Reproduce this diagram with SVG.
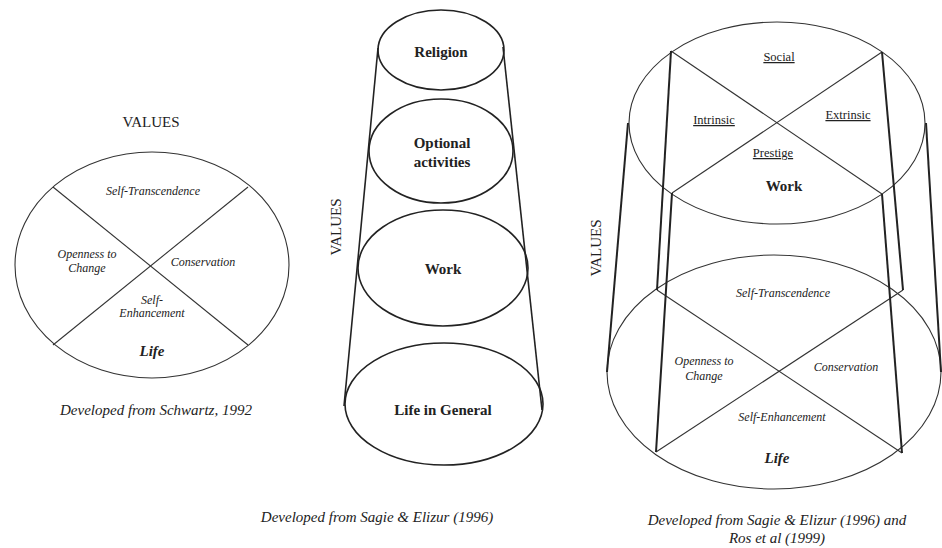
<svg xmlns="http://www.w3.org/2000/svg" width="942" height="548" viewBox="0 0 942 548">
<style>
text{font-family:"Liberation Serif","Times New Roman",serif;fill:#222;text-anchor:middle}
.it{font-style:italic;font-size:12px}
.cap{font-style:italic;font-size:15px}
.b{font-weight:bold;font-size:15px}
.bi{font-weight:bold;font-style:italic;font-size:15px}
.u{font-size:12.5px;text-decoration:underline}
.v{font-size:15px}
.thin{fill:none;stroke:#333;stroke-width:1.1}
.mid{fill:none;stroke:#222;stroke-width:1.6}
.thick{fill:none;stroke:#222;stroke-width:2}
</style>
<rect width="942" height="548" fill="#fff"/>

<g id="schwartz">
  <text class="v" x="151" y="127">VALUES</text>
  <ellipse class="thin" cx="152" cy="265" rx="137" ry="113"/>
  <g id="schwartz-lines">
    <line class="thin" x1="53" y1="187" x2="248" y2="345"/>
    <line class="thin" x1="248" y1="187" x2="53" y2="345"/>
  </g>
  <text class="it" x="153" y="195">Self-Transcendence</text>
  <text class="it" x="87" y="258">Openness to</text>
  <text class="it" x="87" y="272">Change</text>
  <text class="it" x="203" y="266">Conservation</text>
  <text class="it" x="152" y="304">Self-</text>
  <text class="it" x="152" y="317">Enhancement</text>
  <text class="bi" x="152" y="356">Life</text>
  <text class="cap" x="156" y="415">Developed from Schwartz, 1992</text>
</g>

<g id="sagie">
  <text class="v" transform="translate(341,227) rotate(-90)">VALUES</text>
  <g id="sagie-sides">
    <line class="mid" x1="378" y1="48" x2="344" y2="406"/>
    <line class="mid" x1="503" y1="47" x2="542" y2="410"/>
  </g>
  <g id="religion">
    <ellipse class="mid" cx="441" cy="50" rx="63" ry="40"/>
    <text class="b" x="441" y="57">Religion</text>
  </g>
  <g id="optional">
    <ellipse class="mid" cx="441" cy="151" rx="72" ry="52"/>
    <text class="b" x="442" y="148">Optional</text>
    <text class="b" x="442" y="167">activities</text>
  </g>
  <g id="work-mid">
    <ellipse class="mid" cx="443" cy="268" rx="85" ry="58"/>
    <text class="b" x="443" y="274">Work</text>
  </g>
  <g id="life-general">
    <ellipse class="mid" cx="444" cy="404" rx="99" ry="61"/>
    <text class="b" x="443" y="415">Life in General</text>
  </g>
  <text class="cap" x="377" y="522">Developed from Sagie &amp; Elizur (1996)</text>
</g>

<g id="combined">
  <text class="v" transform="translate(601,248) rotate(-90)">VALUES</text>
  <g id="work-top">
    <ellipse class="thin" cx="777" cy="123" rx="148" ry="101"/>
    <line class="thin" x1="671" y1="51" x2="882" y2="194"/>
    <line class="thin" x1="882" y1="52" x2="672" y2="193"/>
    <text class="u" x="779" y="61">Social</text>
    <text class="u" x="714" y="124">Intrinsic</text>
    <text class="u" x="848" y="119">Extrinsic</text>
    <text class="u" x="773" y="157">Prestige</text>
    <text class="b" x="784" y="191">Work</text>
  </g>
  <g id="life-bottom">
    <ellipse class="thin" cx="774" cy="372" rx="167" ry="117"/>
    <line class="thin" x1="657" y1="290" x2="902" y2="453"/>
    <line class="thin" x1="903" y1="290" x2="656" y2="452"/>
    <text class="it" x="783" y="297">Self-Transcendence</text>
    <text class="it" x="704" y="365">Openness to</text>
    <text class="it" x="704" y="380">Change</text>
    <text class="it" x="846" y="371">Conservation</text>
    <text class="it" x="782" y="421">Self-Enhancement</text>
    <text class="bi" x="777" y="463">Life</text>
  </g>
  <g id="connectors">
    <line class="thick" x1="628" y1="123" x2="607" y2="372"/>
    <line class="thick" x1="926" y1="123" x2="941" y2="372"/>
    <line class="thick" x1="671" y1="51" x2="657" y2="290"/>
    <line class="thick" x1="672" y1="193" x2="656" y2="452"/>
    <line class="thick" x1="882" y1="52" x2="903" y2="290"/>
    <line class="thick" x1="882" y1="194" x2="902" y2="453"/>
  </g>
  <text class="cap" x="777" y="525">Developed from Sagie &amp; Elizur (1996) and</text>
  <text class="cap" x="777" y="543">Ros et al (1999)</text>
</g>
</svg>
